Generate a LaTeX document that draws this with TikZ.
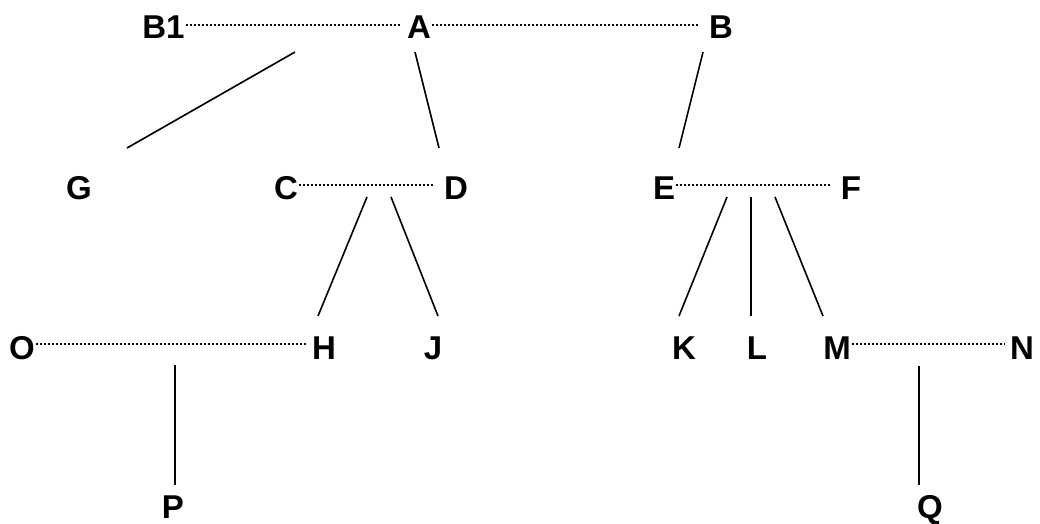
\documentclass[tikz,border=0pt]{standalone}
\usepackage{fontspec}
\setmainfont{Liberation Sans}
\begin{document}
\begin{tikzpicture}[x={(1pt,0)},y={(0,-1pt)},
  person/.style={anchor=base,inner xsep=1pt,inner ysep=0pt,text height=23.5pt,text depth=0pt,
    font=\fontsize{33}{33}\selectfont\bfseries},
  couple/.style={line width=1.6pt,dash pattern=on 1.8pt off 2.2pt,black},
  child/.style={line width=1.6pt,black}]
\useasboundingbox[fill=white] (0,0) rectangle (1040,523);
% people
\node[person] (B1) at (163.5,38) {B1};
\node[person] (A)  at (419,38) {A};
\node[person] (B)  at (721,38) {B};
\node[person] (G)  at (79,199) {G};
\node[person] (C)  at (286,199) {C};
\node[person] (D)  at (456,199) {D};
\node[person] (E)  at (664,199) {E};
\node[person] (F)  at (851,199) {F};
\node[person] (O)  at (22,359) {O};
\node[person] (H)  at (324,359) {H};
\node[person] (J)  at (433,359) {J};
\node[person] (K)  at (684,359) {K};
\node[person] (L)  at (757,359) {L};
\node[person] (M)  at (837,359) {M};
\node[person] (N)  at (1022,359) {N};
\node[person] (P)  at (173,518) {P};
\node[person] (Q)  at (930,518) {Q};
% couple lines
\draw[couple] ([yshift=1pt]B1.east) -- ([xshift=-6pt,yshift=1pt]A.west);
\draw[couple] ([yshift=1pt]A.east) -- ([xshift=-8pt,yshift=1pt]B.west);
\draw[couple] ([yshift=2pt]C.east) -- ([xshift=-8pt,yshift=2pt]D.west);
\draw[couple] ([yshift=2pt]E.east) -- ([xshift=-8pt,yshift=2pt]F.west);
\draw[couple] ([yshift=3pt]O.east) -- ([xshift=-5pt,yshift=3pt]H.west);
\draw[couple] ([yshift=3pt]M.east) -- ([xshift=-4pt,yshift=3pt]N.west);
% junction and end points
\coordinate (jB1A) at (295,52);   \coordinate (tG) at (127,148);
\coordinate (jA)   at (415,52);   \coordinate (tD) at (439,148);
\coordinate (jB)   at (703,52);   \coordinate (tE) at (679,148);
\coordinate (jCD1) at (367,197);  \coordinate (tH) at (318,316);
\coordinate (jCD2) at (391,197);  \coordinate (tJ) at (438,316);
\coordinate (jEF1) at (727,197);  \coordinate (tK) at (679,316);
\coordinate (jEF2) at (751,197);  \coordinate (tL) at (751,316);
\coordinate (jEF3) at (775,197);  \coordinate (tM) at (823,316);
\coordinate (jOH)  at (175,365);  \coordinate (tP) at (175,485);
\coordinate (jMN)  at (919,366);  \coordinate (tQ) at (919,485);
% child lines
\draw[child] (jB1A) -- (tG);
\draw[child] (jA) -- (tD);
\draw[child] (jB) -- (tE);
\draw[child] (jCD1) -- (tH);
\draw[child] (jCD2) -- (tJ);
\draw[child] (jEF1) -- (tK);
\draw[child] (jEF2) -- (tL);
\draw[child] (jEF3) -- (tM);
\draw[child] (jOH) -- (tP);
\draw[child] (jMN) -- (tQ);
\end{tikzpicture}
\end{document}
